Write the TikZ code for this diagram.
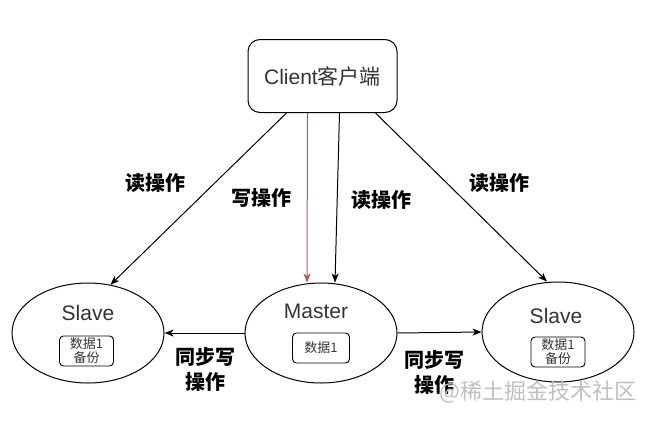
\documentclass[tikz,border=0pt]{standalone}
\usepackage{fontspec}
\setmainfont{Liberation Sans}
\newfontfamily\cjk{Noto Sans CJK SC}
\usetikzlibrary{arrows.meta,shapes.geometric}
\definecolor{wrred}{RGB}{184,84,80}
\definecolor{txtgray}{RGB}{51,51,51}

\begin{document}
\begin{tikzpicture}[x=1pt,y=-1pt,
  box/.style={draw, line width=1pt, rounded corners=12pt, minimum width=149pt, minimum height=73pt},
  role/.style={draw, ellipse, line width=1pt, minimum width=152pt, minimum height=100pt, inner sep=0pt},
  title/.style={font=\fontsize{21}{24}\selectfont, text=txtgray, anchor=base},
  data/.style={draw, line width=0.9pt, rounded corners=4pt, minimum width=54pt, minimum height=30pt, inner sep=0pt, align=center, font=\cjk\fontsize{13}{14}\selectfont, text=txtgray},
  op/.style={font=\cjk\bfseries\fontsize{20}{25}\selectfont, align=center},
  link/.style={line width=1pt, -{Stealth[length=9pt, width=7pt, inset=2.5pt]}}]
\useasboundingbox (0,0) rectangle (671,434);
\node[box, text=txtgray, font=\fontsize{21}{24}\selectfont] (client) at (322.5,76) {Client{\cjk 客户端}};
\node[role] (slaveL) at (88,333) {};
\node[role] (master) at (321,333) {};
\node[role] (slaveR) at (558,332) {};
\node[title] (slaveLname) at (88,320) {Slave};
\node[title] (mastername) at (316,318) {Master};
\node[title] (slaveRname) at (556,323) {Slave};
\node[data] (slaveLdata) at (86.5,351) {数据1\\备份};
\node[data, minimum width=57pt] (masterdata) at (321,348) {数据1};
\node[data] (slaveRdata) at (558,352) {数据1\\备份};
% operation labels
\node[op] (readL) at (155,183) {读操作};
\node[op] (write) at (261,198) {写操作};
\node[op] (readM) at (381,200) {读操作};
\node[op] (readR) at (499,183) {读操作};
\node[op] (syncL) at (205,369.5) {同步写\\操作};
\node[op] (syncR) at (434,372) {同步写\\操作};
\node[font=\cjk\fontsize{22}{24}\selectfont, text=black!25] (mark) at (538,392) {@稀土掘金技术社区};
% connectors
\draw[link] ([xshift=-36pt]client.south) -- (slaveL.65);
\draw[link, wrred] ([xshift=-15pt]client.south) -- ([xshift=-14pt]master.north);
\draw[link] ([xshift=17pt]client.south) -- ([xshift=14pt]master.north);
\draw[link] ([xshift=53pt]client.south) -- ([xshift=-11pt]slaveR.north);
\draw[link] (master.west) -- (slaveL.east);
\draw[link] (master.east) -- (slaveR.west);
\end{tikzpicture}
\end{document}
